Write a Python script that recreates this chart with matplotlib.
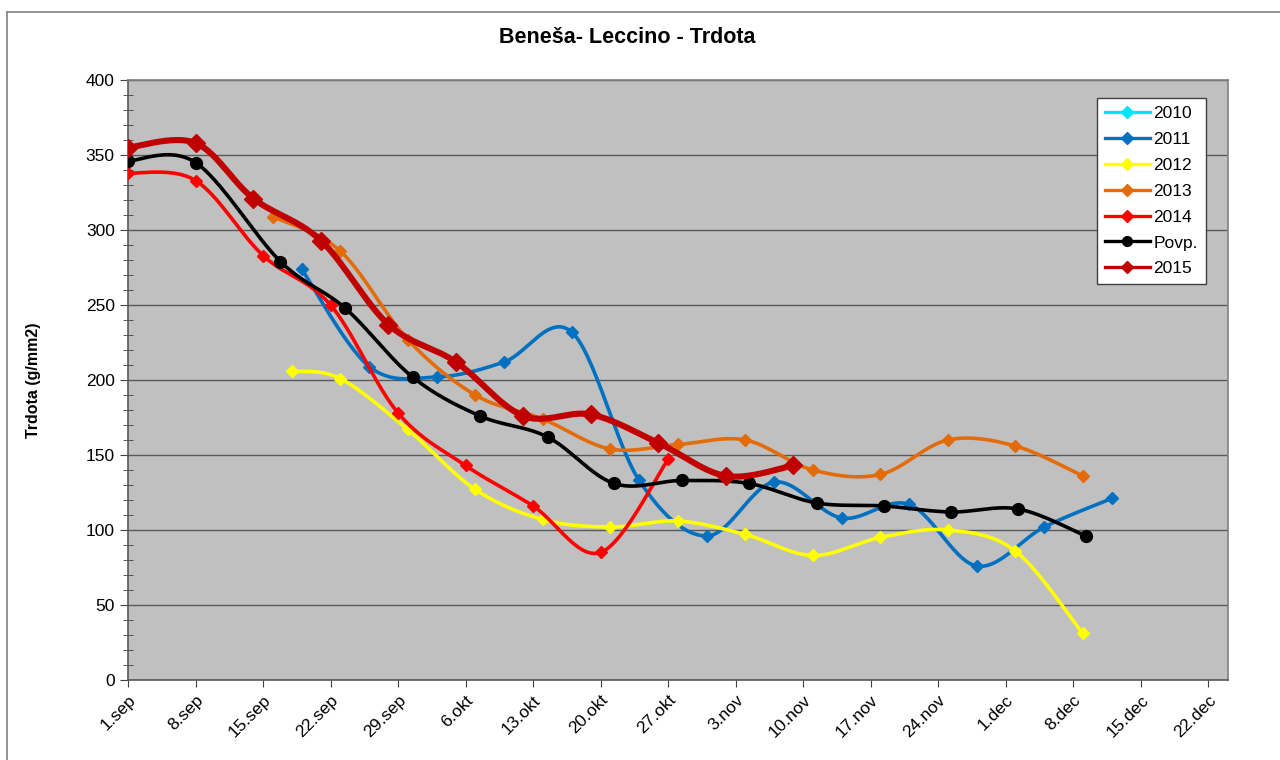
import matplotlib
matplotlib.use('Agg')
import matplotlib.pyplot as plt
import numpy as np
from matplotlib.lines import Line2D
from matplotlib.ticker import MultipleLocator

plt.rcParams['font.family'] = ['Liberation Sans', 'DejaVu Sans']

# days counted from 1. september
week_labels = ['1.sep', '8.sep', '15.sep', '22.sep', '29.sep', '6.okt', '13.okt', '20.okt',
               '27.okt', '3.nov', '10.nov', '17.nov', '24.nov', '1.dec', '8.dec', '15.dec', '22.dec']

days_2010 = []
vals_2010 = []

days_2011 = [18, 25, 32, 39, 46, 53, 60, 67, 74, 81, 88, 95, 102]
vals_2011 = [274, 209, 202, 212, 232, 133, 96, 132, 108, 117, 76, 102, 121]

days_2012 = [17, 22, 29, 36, 43, 50, 57, 64, 71, 78, 85, 92, 99]
vals_2012 = [206, 201, 167, 127, 107, 102, 106, 97, 83, 95, 100, 86, 31]

days_2013 = [15, 22, 29, 36, 43, 50, 57, 64, 71, 78, 85, 92, 99]
vals_2013 = [309, 286, 227, 190, 174, 154, 157, 160, 140, 137, 160, 156, 136]

days_2014 = [0, 7, 14, 21, 28, 35, 42, 49, 56]
vals_2014 = [338, 333, 283, 250, 178, 143, 116, 85, 147]

days_povp = [0, 7, 15.8, 22.5, 29.5, 36.5, 43.5, 50.4, 57.4, 64.4, 71.4, 78.4, 85.3, 92.3, 99.3]
vals_povp = [346, 345, 279, 248, 202, 176, 162, 131, 133, 131, 118, 116, 112, 114, 96]

days_2015 = [0, 7, 13, 20, 27, 34, 41, 48, 55, 62, 69]
vals_2015 = [355, 358, 321, 293, 237, 212, 176, 177, 158, 136, 143]


def excel_smooth(x, y, n=30):
    # catmull-rom style bezier, close to excel's "smoothed line"
    x = np.asarray(x, float)
    y = np.asarray(y, float)
    if len(x) < 3:
        return x, y
    px = np.concatenate([[x[0]], x, [x[-1]]])
    py = np.concatenate([[y[0]], y, [y[-1]]])
    t = np.linspace(0, 1, n)
    xs, ys = [], []
    for i in range(1, len(px) - 2):
        x0, x3 = px[i], px[i + 1]
        y0, y3 = py[i], py[i + 1]
        x1 = x0 + (px[i + 1] - px[i - 1]) / 6.0
        y1 = y0 + (py[i + 1] - py[i - 1]) / 6.0
        x2 = x3 - (px[i + 2] - px[i]) / 6.0
        y2 = y3 - (py[i + 2] - py[i]) / 6.0
        bx = (1 - t) ** 3 * x0 + 3 * (1 - t) ** 2 * t * x1 + 3 * (1 - t) * t ** 2 * x2 + t ** 3 * x3
        by = (1 - t) ** 3 * y0 + 3 * (1 - t) ** 2 * t * y1 + 3 * (1 - t) * t ** 2 * y2 + t ** 3 * y3
        xs.append(bx)
        ys.append(by)
    return np.concatenate(xs), np.concatenate(ys)


series = [
    ('2010', days_2010, vals_2010, '#00E5FF', 2.6, 'D', 6.5),
    ('2011', days_2011, vals_2011, '#0070C0', 2.6, 'D', 6.5),
    ('2012', days_2012, vals_2012, '#FFFF00', 2.6, 'D', 6.5),
    ('2013', days_2013, vals_2013, '#E36C09', 2.6, 'D', 6.5),
    ('2014', days_2014, vals_2014, '#FF0000', 2.6, 'D', 6.5),
    ('Povp.', days_povp, vals_povp, '#000000', 2.6, 'o', 8.5),
    ('2015', days_2015, vals_2015, '#C00000', 4.4, 'D', 9.5),
]

fig = plt.figure(figsize=(12.8, 7.6), dpi=100)
ax = fig.add_axes([0.1, 0.1053, 0.859, 0.7894])
ax.set_facecolor('#C0C0C0')

handles = []
for z, (name, dx, dy, col, lw, mk, ms) in enumerate(series):
    if len(dx) > 0:
        sx, sy = excel_smooth(dx, dy)
        ax.plot(sx, sy, color=col, lw=lw, zorder=3 + z, solid_capstyle='round')
        ax.plot(dx, dy, ls='none', marker=mk, ms=ms, color=col, mec=col, zorder=3 + z)
    handles.append(Line2D([0], [0], color=col, lw=2.4, marker=mk,
                          ms=6 if mk == 'D' else 7, mec=col))

ax.set_xlim(0, 114)
ax.set_ylim(0, 400)
ax.set_xticks(np.arange(len(week_labels)) * 7)
ax.set_xticklabels(week_labels, rotation=45, ha='right', rotation_mode='anchor', fontsize=12.5)
ax.yaxis.set_major_locator(MultipleLocator(50))
ax.yaxis.set_minor_locator(MultipleLocator(10))
ax.tick_params(axis='y', which='major', direction='out', length=6, labelsize=12.5, color='#404040')
ax.tick_params(axis='y', which='minor', direction='inout', length=7, color='#404040')
ax.tick_params(axis='x', which='major', direction='out', length=5, color='#404040', pad=4)
ax.grid(axis='y', which='major', color='#595959', lw=1.0)
ax.set_axisbelow(True)
for side in ['left', 'bottom']:
    ax.spines[side].set_color('#595959')
    ax.spines[side].set_linewidth(1.2)
for side in ['top', 'right']:
    ax.spines[side].set_color('#808080')
    ax.spines[side].set_linewidth(1.2)

ax.set_ylabel('Trdota (g/mm2)', fontsize=11.5, fontweight='bold', labelpad=32)
fig.text(0.49, 0.951, 'Beneša- Leccino - Trdota', ha='center', va='center',
         fontsize=15.5, fontweight='bold')

leg = ax.legend(handles, [s[0] for s in series], loc='upper right',
                bbox_to_anchor=(0.98, 0.97), fontsize=12.5, frameon=True,
                fancybox=False, handlelength=2.6, handletextpad=0.2,
                labelspacing=0.62, borderpad=0.45, borderaxespad=0)
leg.get_frame().set_edgecolor('#404040')
leg.get_frame().set_linewidth(1.0)
leg.get_frame().set_facecolor('white')
leg.get_frame().set_alpha(1)

# chart area border (left and top edges visible)
fig.add_artist(Line2D([0.0055, 0.0055], [0.0, 0.984], color='#808080', lw=1.2))
fig.add_artist(Line2D([0.0055, 1.0], [0.984, 0.984], color='#808080', lw=1.2))

fig.savefig('out.png', dpi=100, facecolor='white')
